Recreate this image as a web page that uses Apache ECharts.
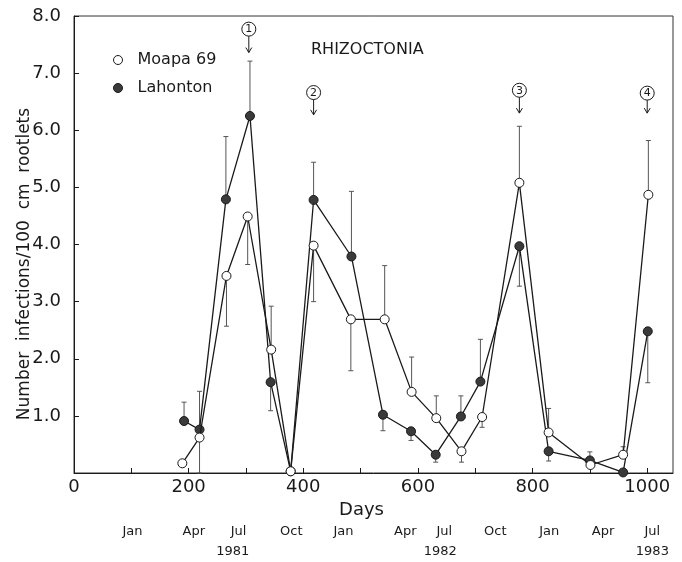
<!DOCTYPE html>
<html>
<head>
<meta charset="utf-8">
<script src="https://cdn.jsdelivr.net/npm/echarts@6/dist/echarts.min.js"></script>
<style>
html,body{margin:0;padding:0;background:#fff;}
#main{width:682px;height:562px;}
</style>
</head>
<body>
<div id="main"></div>
<script>
// 数据：Moapa 69（空心）
var moapaDays = [189, 219, 266, 303, 344, 378, 418, 483, 542, 589, 632, 676, 712, 777, 828, 901, 958, 1002];
var moapaVals = [0.17, 0.62, 3.45, 4.49, 2.16, 0.03, 3.98, 2.69, 2.69, 1.42, 0.96, 0.38, 0.98, 5.08, 0.71, 0.14, 0.32, 4.87];
var moapaErr  = [null, 0, 2.57, 3.65, 2.92, null, 3.00, 1.79, 3.63, 2.03, 1.35, 0.19, 0.80, 6.07, 1.13, null, 0.46, 5.82];
// 数据：Lahonton（实心）
var lahontonDays = [192, 219, 265, 307, 343, 378, 418, 484, 539, 588, 631, 675, 709, 777, 828, 900, 958, 1001];
var lahontonVals = [0.91, 0.76, 4.79, 6.25, 1.59, 0.03, 4.78, 3.79, 1.02, 0.73, 0.32, 0.99, 1.60, 3.97, 0.38, 0.22, 0.01, 2.48];
var lahontonErr  = [1.24, 1.43, 5.89, 7.21, 1.09, null, 5.44, 4.93, 0.74, 0.57, 0.19, 1.35, 2.34, 3.27, 0.21, 0.37, null, 1.58];
// 圆圈编号标注
var markDays   = [305, 418, 777, 1000];
var markCircle = [7.77, 6.66, 6.70, 6.65];
var markTip    = [7.36, 6.27, 6.30, 6.30];
var markText   = ['1', '2', '3', '4'];
// 月份和年份
var monthDays   = [102, 209, 287, 379, 470, 578, 646, 735, 829, 923, 1009];
var monthLabels = ['Jan', 'Apr', 'Jul', 'Oct', 'Jan', 'Apr', 'Jul', 'Oct', 'Jan', 'Apr', 'Jul'];
var yearDays    = [277, 639, 1009];
var yearLabels  = ['1981', '1982', '1983'];

var FONT = 'DejaVu Sans';
var INK = '#1a1a1a';

function pairs(xs, ys){
    var out = [];
    for (var i = 0; i < xs.length; i++) {
        out.push([xs[i], ys[i]]);
    }
    return out;
}
function errData(xs, ys, es){
    var out = [];
    for (var i = 0; i < xs.length; i++) {
        if (es[i] !== null) out.push([xs[i], ys[i], es[i]]);
    }
    return out;
}
//误差线
function renderErr(params, api){
    var p1 = api.coord([api.value(0), api.value(1)]);
    var p2 = api.coord([api.value(0), api.value(2)]);
    var st = {stroke: '#555', lineWidth: 1};
    return {
        type: 'group',
        children: [
            {type: 'line', shape: {x1: p1[0], y1: p1[1], x2: p2[0], y2: p2[1]}, style: st},
            {type: 'line', shape: {x1: p2[0] - 2.5, y1: p2[1], x2: p2[0] + 2.5, y2: p2[1]}, style: st}
        ]
    };
}
//圆圈编号 + 箭头
function renderMark(params, api){
    var c = api.coord([api.value(0), api.value(1)]);
    var t = api.coord([api.value(0), api.value(2)]);
    var r = 7;
    var st = {stroke: INK, lineWidth: 1, fill: null};
    return {
        type: 'group',
        children: [
            {type: 'circle', shape: {cx: c[0], cy: c[1], r: r}, style: {stroke: INK, lineWidth: 1, fill: '#fff'}},
            {type: 'text', x: c[0], y: c[1] + 0.5, style: {text: markText[params.dataIndex], fill: INK, font: '11px ' + FONT, align: 'center', verticalAlign: 'middle'}},
            {type: 'line', shape: {x1: c[0], y1: c[1] + r, x2: t[0], y2: t[1]}, style: st},
            {type: 'polyline', shape: {points: [[t[0] - 3, t[1] - 5], [t[0], t[1]], [t[0] + 3, t[1] - 5]]}, style: st}
        ]
    };
}

var myChart = echarts.init(document.getElementById('main'));
var option = {
    animation: false,
    backgroundColor: '#fff',
    textStyle: {fontFamily: FONT, color: INK},
    grid: {left: 74, right: 9, top: 16, bottom: 89, show: true, borderColor: '#333', borderWidth: 1},
    legend: {
        orient: 'vertical',
        left: 108,
        top: 47,
        itemWidth: 9,
        itemHeight: 9,
        itemGap: 12,
        textStyle: {fontSize: 16, color: INK, fontFamily: FONT, padding: [0, 0, 0, 10]},
        data: [
            {name: 'Moapa 69', icon: 'circle', itemStyle: {color: '#fff', borderColor: INK, borderWidth: 1}},
            {name: 'Lahonton', icon: 'circle', itemStyle: {color: '#3a3a3a', borderColor: INK, borderWidth: 1}}
        ]
    },
    xAxis: {
        type: 'value',
        min: 0,
        max: 1045,
        interval: 100,
        name: 'Days',
        nameLocation: 'middle',
        nameGap: 27,
        nameTextStyle: {fontSize: 18, color: INK, padding: [0, 24, 0, 0]},
        axisLine: {lineStyle: {color: INK}},
        axisTick: {inside: true, length: 5, lineStyle: {color: INK}},
        axisLabel: {
            fontSize: 18,
            color: INK,
            margin: 5,
            showMaxLabel: false,
            formatter: function(v){ return v % 200 === 0 ? String(v) : ''; }
        },
        splitLine: {show: false}
    },
    yAxis: {
        type: 'value',
        min: 0,
        max: 8,
        interval: 1,
        axisLine: {show: true, lineStyle: {color: INK}},
        axisTick: {show: true, inside: true, length: 5, lineStyle: {color: INK}},
        axisLabel: {
            fontSize: 18,
            color: INK,
            margin: 13,
            formatter: function(v){ return v === 0 ? '' : v.toFixed(1); }
        },
        splitLine: {show: false}
    },
    series: [
        {type: 'custom', name: 'errM', renderItem: renderErr, data: errData(moapaDays, moapaVals, moapaErr), z: 1, silent: true},
        {type: 'custom', name: 'errL', renderItem: renderErr, data: errData(lahontonDays, lahontonVals, lahontonErr), z: 1, silent: true},
        {
            type: 'line',
            name: 'Lahonton',
            data: pairs(lahontonDays, lahontonVals),
            symbol: 'circle',
            symbolSize: 9,
            lineStyle: {color: INK, width: 1.3},
            itemStyle: {color: '#3a3a3a', borderColor: INK, borderWidth: 1},
            z: 3
        },
        {
            type: 'line',
            name: 'Moapa 69',
            data: pairs(moapaDays, moapaVals),
            symbol: 'circle',
            symbolSize: 9,
            lineStyle: {color: INK, width: 1.3},
            itemStyle: {color: '#fff', borderColor: INK, borderWidth: 1},
            z: 4
        },
        {type: 'custom', name: 'marks', renderItem: renderMark, data: pairs(markDays, markCircle).map(function(d, i){ return [d[0], d[1], markTip[i]]; }), z: 5, silent: true}
    ]
};
myChart.setOption(option);

// 月份、年份、标题和纵轴名称
var g = [];
for (var i = 0; i < monthDays.length; i++) {
    g.push({type: 'text', x: myChart.convertToPixel({xAxisIndex: 0}, monthDays[i]), y: 532,
        style: {text: monthLabels[i], fill: INK, font: '13px ' + FONT, align: 'center', verticalAlign: 'middle'}});
}
for (var j = 0; j < yearDays.length; j++) {
    g.push({type: 'text', x: myChart.convertToPixel({xAxisIndex: 0}, yearDays[j]), y: 552,
        style: {text: yearLabels[j], fill: INK, font: '13px ' + FONT, align: 'center', verticalAlign: 'middle'}});
}
g.push({type: 'text', x: 311, y: 50, style: {text: 'RHIZOCTONIA', fill: INK, font: '16px ' + FONT, align: 'left', verticalAlign: 'middle'}});
g.push({type: 'text', x: 25, y: 264, rotation: Math.PI / 2,
    style: {text: 'Number  infections/100  cm  rootlets', fill: INK, font: '17px ' + FONT, align: 'center', verticalAlign: 'middle'}});
myChart.setOption({graphic: g});
</script>
</body>
</html>
